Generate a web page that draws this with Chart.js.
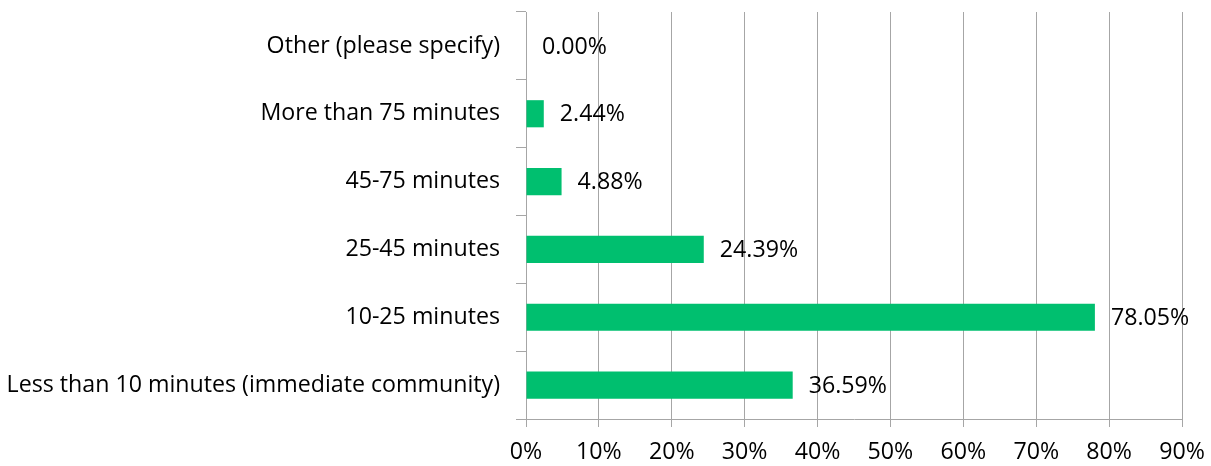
<!DOCTYPE html>
<html>
<head>
<meta charset="utf-8">
<script src="https://cdn.jsdelivr.net/npm/chart.js@4/dist/chart.umd.min.js"></script>
<style>
  html, body { margin: 0; padding: 0; background: #fff; }
  #wrap { width: 1211px; height: 466px; position: relative; }
</style>
</head>
<body>
<div id="wrap"><canvas id="chart"></canvas></div>
<script>
// categories, top to bottom
const categorias = [
    "Other (please specify)",
    "More than 75 minutes",
    "45-75 minutes",
    "25-45 minutes",
    "10-25 minutes",
    "Less than 10 minutes (immediate community)"
];
const percentuais = [0.00, 2.44, 4.88, 24.39, 78.05, 36.59];
const ticksX = [0, 10, 20, 30, 40, 50, 60, 70, 80, 90];

const fonte = "'Open Sans', sans-serif";
const tam = 23.2;
const cinza = "#a6a6a6";

// desenha o valor ao lado de cada barra
const rotulos = {
    id: "rotulos",
    afterDatasetsDraw(chart) {
        const ctx = chart.ctx;
        const meta = chart.getDatasetMeta(0);
        ctx.save();
        ctx.font = tam + "px " + fonte;
        ctx.fillStyle = "#000";
        ctx.textAlign = "left";
        ctx.textBaseline = "middle";
        meta.data.forEach((bar, i) => {
            ctx.fillText(percentuais[i].toFixed(2) + "%", bar.x + 16, bar.y + 1);
        });
        ctx.restore();
    }
};

new Chart(document.getElementById("chart"), {
    type: "bar",
    data: {
        labels: categorias,
        datasets: [{
            data: percentuais,
            backgroundColor: "#00bf6f",
            barPercentage: 0.4,
            categoryPercentage: 1
        }]
    },
    options: {
        indexAxis: "y",
        responsive: true,
        maintainAspectRatio: false,
        animation: false,
        layout: { padding: { top: 12, right: 29, left: 0, bottom: 0 } },
        plugins: { legend: { display: false }, tooltip: { enabled: false } },
        scales: {
            x: {
                min: ticksX[0],
                max: ticksX[ticksX.length - 1],
                afterBuildTicks: s => { s.ticks = ticksX.map(v => ({ value: v })); },
                afterFit: s => { s.height = 47; s.paddingLeft = 0; s.paddingRight = 0; },
                ticks: {
                    callback: v => v + "%",
                    color: "#000",
                    font: { family: fonte, size: tam },
                    padding: 11,
                    maxRotation: 0
                },
                grid: { color: cinza, lineWidth: 1, tickLength: 8 },
                border: { color: cinza }
            },
            y: {
                afterFit: s => { s.width = 526; s.paddingTop = 0; s.paddingBottom = 0; },
                ticks: {
                    color: "#000",
                    font: { family: fonte, size: tam },
                    padding: 16
                },
                grid: { color: cinza, drawOnChartArea: false, tickLength: 10, offset: true },
                border: { color: cinza }
            }
        }
    },
    plugins: [rotulos]
});
</script>
</body>
</html>
